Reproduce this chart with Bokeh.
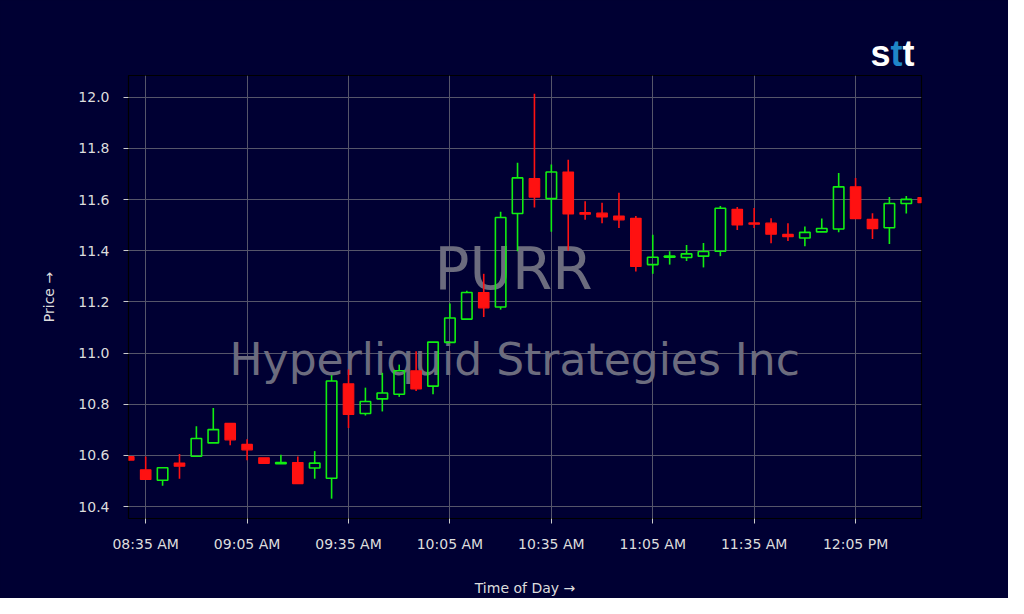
import pandas as pd
from bokeh.plotting import figure
from bokeh.layouts import column
from bokeh.models import (FixedTicker, DatetimeTickFormatter, NumeralTickFormatter,
                          Range1d, Label, ColumnDataSource)
from bokeh.embed import file_html
from bokeh.resources import INLINE

# ---------------- data ----------------
day = "2025-01-01"
times = ["08:30", "08:35", "08:40", "08:45", "08:50", "08:55", "09:00", "09:05",
         "09:10", "09:15", "09:20", "09:25", "09:30", "09:35", "09:40", "09:45",
         "09:50", "09:55", "10:00", "10:05", "10:10", "10:15", "10:20", "10:25",
         "10:30", "10:35", "10:40", "10:45", "10:50", "10:55", "11:00", "11:05",
         "11:10", "11:15", "11:20", "11:25", "11:30", "11:35", "11:40", "11:45",
         "11:50", "11:55", "12:00", "12:05", "12:10", "12:15", "12:20", "12:25"]
opens = [10.595, 10.544, 10.503, 10.570, 10.597, 10.649, 10.725, 10.643,
         10.591, 10.568, 10.572, 10.551, 10.511, 10.880, 10.764, 10.821,
         10.839, 10.931, 10.871, 11.042, 11.133, 11.237, 11.180, 11.546,
         11.682, 11.604, 11.708, 11.549, 11.547, 11.536, 11.527, 11.346,
         11.375, 11.374, 11.379, 11.398, 11.562, 11.509, 11.508, 11.464,
         11.450, 11.474, 11.485, 11.650, 11.523, 11.490, 11.585, 11.608]
highs = [10.598, 10.596, 10.552, 10.606, 10.714, 10.785, 10.725, 10.663,
         10.591, 10.603, 10.596, 10.617, 10.914, 10.936, 10.865, 10.923,
         10.955, 11.007, 11.043, 11.194, 11.244, 11.310, 11.553, 11.744,
         12.014, 11.737, 11.756, 11.594, 11.588, 11.627, 11.536, 11.463,
         11.398, 11.423, 11.430, 11.575, 11.571, 11.567, 11.527, 11.508,
         11.495, 11.526, 11.704, 11.685, 11.547, 11.610, 11.614, 11.627]
lows = [10.580, 10.505, 10.482, 10.509, 10.597, 10.649, 10.640, 10.581,
        10.569, 10.567, 10.490, 10.509, 10.431, 10.707, 10.756, 10.772,
        10.829, 10.852, 10.839, 11.042, 11.131, 11.141, 11.170, 11.398,
        11.569, 11.474, 11.401, 11.521, 11.508, 11.489, 11.319, 11.310,
        11.346, 11.360, 11.335, 11.379, 11.481, 11.489, 11.429, 11.438,
        11.418, 11.474, 11.472, 11.526, 11.446, 11.427, 11.546, 11.559]
closes = [10.582, 10.506, 10.552, 10.558, 10.666, 10.701, 10.661, 10.622,
          10.569, 10.572, 10.490, 10.570, 10.891, 10.760, 10.811, 10.844,
          10.931, 10.860, 11.043, 11.137, 11.237, 11.177, 11.530, 11.685,
          11.610, 11.708, 11.544, 11.543, 11.532, 11.521, 11.339, 11.375,
          11.379, 11.388, 11.397, 11.566, 11.501, 11.504, 11.465, 11.455,
          11.472, 11.487, 11.650, 11.526, 11.487, 11.585, 11.601, 11.588]
x_tick_times = ["08:35", "09:05", "09:35", "10:05", "10:35", "11:05", "11:35", "12:05"]
y_ticks = [10.4, 10.6, 10.8, 11.0, 11.2, 11.4, 11.6, 11.8, 12.0]
symbol = "PURR"
company = "Hyperliquid Strategies Inc"
logo_parts = ["s", "t", "t"]

# ---------------- styles ----------------
BG = "#000033"
GREEN = "#11ee11"
RED = "#ff1111"
TXT = "#dddddd"
FONT = "DejaVu Sans"
W = 1008
TOP_H = 75

df = pd.DataFrame({"t": pd.to_datetime([f"{day} {s}" for s in times]),
                   "open": opens, "high": highs, "low": lows, "close": closes})
df["top"] = df[["open", "close"]].max(axis=1)
df["bot"] = df[["open", "close"]].min(axis=1)
up = df[df["close"] >= df["open"]]
dn = df[df["close"] < df["open"]]

def ts(s):
    return pd.Timestamp(f"{day} {s}")

# ---------------- top strip with the logo ----------------
head = figure(width=W, height=TOP_H, x_range=Range1d(0, W), y_range=Range1d(0, TOP_H),
              x_axis_type=None, y_axis_type=None, output_backend="svg", toolbar_location=None,
              min_border=0, background_fill_color=BG, border_fill_color=BG)
head.frame_align = False
head.outline_line_color = None
head.grid.visible = False
for txt, sx, col in zip(logo_parts, (870, 890, 902), ("white", "#1f86c8", "white")):
    head.add_layout(Label(x=sx, y=22, text=txt, text_font="Liberation Sans",
                          text_font_size="36px", text_font_style="bold",
                          text_color=col, text_baseline="alphabetic"))

# ---------------- main candlestick chart ----------------
x_start = ts("08:30") - pd.Timedelta(seconds=5)
x_end = ts("12:24") + pd.Timedelta(seconds=30)

p = figure(width=W, height=598 - TOP_H, x_axis_type="datetime",
           x_range=Range1d(x_start, x_end), y_range=Range1d(10.3535, 12.0852),
           output_backend="svg", toolbar_location=None,
           min_border_left=128, min_border_right=87, min_border_top=0, min_border_bottom=76,
           background_fill_color=BG, border_fill_color=BG)
p.frame_align = False
p.outline_line_color = "black"
p.outline_line_width = 1.2

# watermark
p.add_layout(Label(x=ts("10:23") + pd.Timedelta(seconds=50), y=11.330, text=symbol,
                   text_font=FONT, text_font_size="58px", text_color="#6c6c7e",
                   text_align="center", text_baseline="alphabetic", level="underlay"))
p.add_layout(Label(x=ts("10:24") + pd.Timedelta(seconds=10), y=10.975, text=company,
                   text_font=FONT, text_font_size="44px", text_color="#6c6c7e",
                   text_align="center", text_baseline="alphabetic", level="underlay"))

body_w = 3.1 * 60 * 1000

for sub, col in ((up, GREEN), (dn, RED)):
    src = ColumnDataSource(sub)
    p.segment(x0="t", y0="top", x1="t", y1="high", source=src, line_color=col, line_width=1.6)
    p.segment(x0="t", y0="low", x1="t", y1="bot", source=src, line_color=col, line_width=1.6)

p.vbar(x="t", width=body_w, top="top", bottom="bot", source=ColumnDataSource(up),
       fill_alpha=0, line_color=GREEN, line_width=1.6)
p.vbar(x="t", width=body_w, top="top", bottom="bot", source=ColumnDataSource(dn),
       fill_color=RED, line_color=RED, line_width=1.2)

tick_ms = [ts(s).value // 10**6 for s in x_tick_times]
p.xaxis.ticker = FixedTicker(ticks=tick_ms)
fmt = "%I:%M %p"
p.xaxis.formatter = DatetimeTickFormatter(minutes=fmt, hourmin=fmt, hours=fmt, minsec=fmt,
                                          seconds=fmt, days=fmt)
p.yaxis.ticker = FixedTicker(ticks=y_ticks)
p.yaxis.formatter = NumeralTickFormatter(format="0.0")

for ax in (p.xaxis[0], p.yaxis[0]):
    ax.axis_line_color = None
    ax.major_tick_line_color = "#cccccc"
    ax.major_tick_out = 5
    ax.major_tick_in = 0
    ax.minor_tick_line_color = None
    ax.major_label_text_color = TXT
    ax.major_label_text_font = FONT
    ax.major_label_text_font_size = "14px"
    ax.axis_label_text_color = TXT
    ax.axis_label_text_font = FONT
    ax.axis_label_text_font_size = "14px"
    ax.axis_label_text_font_style = "normal"

p.xaxis.axis_label = "Time of Day →"
p.yaxis.axis_label = "Price →"
p.xaxis.major_label_standoff = 12
p.xaxis.axis_label_standoff = 25
p.yaxis.major_label_standoff = 14
p.yaxis.axis_label_standoff = 18

p.grid.grid_line_color = "#55556a"
p.grid.grid_line_width = 1

page = column(head, p, spacing=0, styles={"background-color": BG})
open("out.html", "w").write(file_html(page, INLINE))
